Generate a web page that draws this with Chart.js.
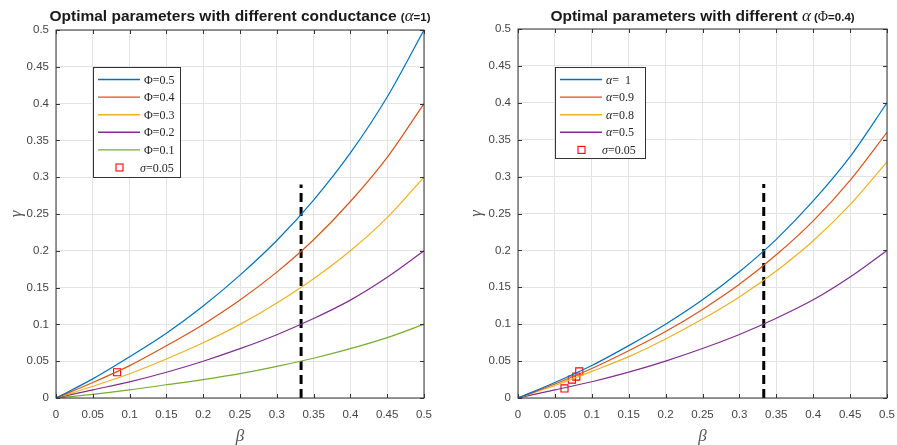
<!DOCTYPE html>
<html>
<head>
<meta charset="utf-8">
<script src="https://cdn.jsdelivr.net/npm/chart.js@4.4.1/dist/chart.umd.min.js"></script>
<style>
body { margin: 0; background: #fff; width: 897px; height: 445px; overflow: hidden; position: relative; }
.box { position: absolute; top: 0; height: 445px; }
</style>
</head>
<body>
<div class="box" style="left:0;width:448px"><canvas id="left"></canvas></div>
<div class="box" style="left:448px;width:449px"><canvas id="right"></canvas></div>
<script>
// values
var betaVals = [0, 0.05, 0.1, 0.15, 0.2, 0.25, 0.3, 0.35, 0.4, 0.45, 0.5];

var phi05 = [0, 0.026, 0.056, 0.088, 0.125, 0.167, 0.214, 0.269, 0.333, 0.409, 0.5];
var phi04 = [0, 0.021, 0.044, 0.071, 0.100, 0.133, 0.171, 0.215, 0.267, 0.327, 0.4];
var phi03 = [0, 0.016, 0.033, 0.053, 0.075, 0.100, 0.129, 0.162, 0.200, 0.245, 0.3];
var phi02 = [0, 0.011, 0.022, 0.035, 0.050, 0.067, 0.086, 0.108, 0.133, 0.164, 0.2];
var phi01 = [0, 0.005, 0.011, 0.018, 0.025, 0.033, 0.043, 0.054, 0.067, 0.082, 0.1];

var alpha10 = [0, 0.021, 0.044, 0.071, 0.100, 0.133, 0.171, 0.215, 0.267, 0.327, 0.4];
var alpha09 = [0, 0.019, 0.040, 0.064, 0.090, 0.120, 0.154, 0.194, 0.240, 0.295, 0.36];
var alpha08 = [0, 0.017, 0.036, 0.056, 0.080, 0.107, 0.137, 0.172, 0.213, 0.262, 0.32];
var alpha05 = [0, 0.011, 0.022, 0.035, 0.050, 0.067, 0.086, 0.108, 0.133, 0.164, 0.2];

var sigmaLeftBeta = [0.083];
var sigmaLeftGamma = [0.035];
var sigmaRightBeta = [0.063, 0.073, 0.079, 0.083];
var sigmaRightGamma = [0.013, 0.025, 0.029, 0.036];

var dashBeta = [0.333, 0.333];
var dashGamma = [0, 0.29];

var tickVals = [0, 0.05, 0.1, 0.15, 0.2, 0.25, 0.3, 0.35, 0.4, 0.45, 0.5];

var COLORS = ['#0072BD', '#D95319', '#EDB120', '#7E2F8E', '#77AC30'];

function pts(xs, ys) {
    return xs.map(function(x, i) { return {x: x, y: ys[i]}; });
}

function curve(label, ys, color) {
    return {
        label: label, data: pts(betaVals, ys), borderColor: color, borderWidth: 1.2,
        pointRadius: 0, cubicInterpolationMode: 'monotone', fill: false
    };
}

function markers(label, xs, ys) {
    return {
        label: label, data: pts(xs, ys), showLine: false, pointStyle: 'rect',
        pointRadius: 5, pointBorderColor: '#ff0000', pointBackgroundColor: 'rgba(0,0,0,0)',
        pointBorderWidth: 1.1, borderColor: '#ff0000'
    };
}

function dashLine() {
    return {
        label: '', data: pts(dashBeta, dashGamma), borderColor: '#000', borderWidth: 3,
        borderDash: [9, 5], pointRadius: 0, noLegend: true
    };
}

var fmt = function(v) { return String(+(+v).toFixed(2)); };

// MATLAB-ish frame, inward ticks, title, axis labels, legend
var matlabLook = {
    id: 'matlabLook',
    afterDraw: function(chart, args, o) {
        var ctx = chart.ctx, a = chart.chartArea;
        var xs = chart.scales.x, ys = chart.scales.y;
        ctx.save();
        ctx.strokeStyle = '#333';
        ctx.lineWidth = 1;
        ctx.strokeRect(a.left, a.top, a.right - a.left, a.bottom - a.top);
        ctx.beginPath();
        tickVals.forEach(function(v) {
            var px = Math.round(xs.getPixelForValue(v)) + 0.5;
            ctx.moveTo(px, a.bottom); ctx.lineTo(px, a.bottom - 4);
            ctx.moveTo(px, a.top); ctx.lineTo(px, a.top + 4);
            var py = Math.round(ys.getPixelForValue(v)) + 0.5;
            ctx.moveTo(a.left, py); ctx.lineTo(a.left + 4, py);
            ctx.moveTo(a.right, py); ctx.lineTo(a.right - 4, py);
        });
        ctx.stroke();

        // title
        var parts = o.title, total = 0;
        parts.forEach(function(p) { ctx.font = p.f; p.w = ctx.measureText(p.t).width; total += p.w; });
        var x = (a.left + a.right) / 2 - total / 2;
        ctx.fillStyle = '#1a1a1a';
        ctx.textAlign = 'left';
        ctx.textBaseline = 'alphabetic';
        parts.forEach(function(p) { ctx.font = p.f; ctx.fillText(p.t, x, 21); x += p.w; });

        // axis labels
        ctx.fillStyle = '#555';
        ctx.font = 'italic 17px "Liberation Serif"';
        ctx.textAlign = 'center';
        ctx.fillText('\u03b2', (a.left + a.right) / 2, 441);
        ctx.save();
        ctx.translate(o.gammaX, (a.top + a.bottom) / 2);
        ctx.rotate(-Math.PI / 2);
        ctx.fillText('\u03b3', 0, 5);
        ctx.restore();

        // legend
        var L = o.legend;
        ctx.fillStyle = '#fff';
        ctx.fillRect(L.x, L.y, L.w, L.h);
        ctx.strokeStyle = '#333';
        ctx.strokeRect(L.x + 0.5, L.y + 0.5, L.w, L.h);
        var row = 0;
        chart.data.datasets.forEach(function(ds) {
            if (ds.noLegend) return;
            var cy = L.y + 12.5 + row * 17.6;
            var tx;
            if (ds.showLine === false) {
                ctx.strokeStyle = '#ff0000';
                ctx.lineWidth = 1.1;
                ctx.strokeRect(L.x + 23, cy - 3.5, 7, 7);
                tx = L.x + 47;
            } else {
                ctx.strokeStyle = ds.borderColor;
                ctx.lineWidth = 1.4;
                ctx.beginPath();
                ctx.moveTo(L.x + 5, cy); ctx.lineTo(L.x + 47, cy);
                ctx.stroke();
                tx = L.x + 51;
            }
            ctx.fillStyle = '#262626';
            ctx.textAlign = 'left';
            ctx.textBaseline = 'middle';
            var first = ds.label.charAt(0);
            ctx.font = (first === '\u03a6' ? '' : 'italic ') + '12px "Liberation Serif"';
            ctx.fillText(first, tx, cy + 1);
            var w = ctx.measureText(first).width;
            ctx.font = '12px "Liberation Serif"';
            ctx.fillText(ds.label.slice(1), tx + w, cy + 1);
            row++;
        });
        ctx.restore();
    }
};

function makeChart(id, datasets, yWidth, pad, look) {
    return new Chart(document.getElementById(id), {
        type: 'line',
        data: {datasets: datasets},
        plugins: [matlabLook],
        options: {
            responsive: true,
            maintainAspectRatio: false,
            animation: false,
            layout: {padding: pad},
            plugins: {legend: {display: false}, tooltip: {enabled: false}, matlabLook: look},
            scales: {
                x: {
                    type: 'linear', min: 0, max: 0.5,
                    afterBuildTicks: function(s) { s.ticks = tickVals.map(function(v) { return {value: v}; }); },
                    afterFit: function(s) { s.height = 47; s.paddingRight = 0; },
                    grid: {color: '#e3e3e3', drawTicks: false},
                    border: {display: false},
                    ticks: {autoSkip: false, maxRotation: 0, padding: 10, color: '#444',
                        font: {family: 'Liberation Sans', size: 11.5}, callback: fmt}
                },
                y: {
                    type: 'linear', min: 0, max: 0.5,
                    afterBuildTicks: function(s) { s.ticks = tickVals.map(function(v) { return {value: v}; }); },
                    afterFit: function(s) { s.width = yWidth; s.paddingTop = 0; },
                    grid: {color: '#e3e3e3', drawTicks: false},
                    border: {display: false},
                    ticks: {padding: 7, color: '#444', font: {family: 'Liberation Sans', size: 11.5}, callback: fmt}
                }
            }
        }
    });
}

var BOLD = 'bold 15.5px "Liberation Sans"';
var SMALL = 'bold 11.5px "Liberation Sans"';
var GREEK = 'italic 17px "Liberation Serif"';

makeChart('left', [
    curve('\u03a6=0.5', phi05, COLORS[0]),
    curve('\u03a6=0.4', phi04, COLORS[1]),
    curve('\u03a6=0.3', phi03, COLORS[2]),
    curve('\u03a6=0.2', phi02, COLORS[3]),
    curve('\u03a6=0.1', phi01, COLORS[4]),
    markers('\u03c3=0.05', sigmaLeftBeta, sigmaLeftGamma),
    dashLine()
], 56, {left: 0, top: 30, right: 24, bottom: 0}, {
    title: [
        {t: 'Optimal parameters with different conductance ', f: BOLD},
        {t: '(', f: SMALL}, {t: '\u03b1', f: GREEK}, {t: '=1)', f: SMALL}
    ],
    gammaX: 16,
    legend: {x: 93, y: 67, w: 87, h: 110}
});

makeChart('right', [
    curve('\u03b1=  1', alpha10, COLORS[0]),
    curve('\u03b1=0.9', alpha09, COLORS[1]),
    curve('\u03b1=0.8', alpha08, COLORS[2]),
    curve('\u03b1=0.5', alpha05, COLORS[3]),
    markers('\u03c3=0.05', sigmaRightBeta, sigmaRightGamma),
    dashLine()
], 70, {left: 0, top: 29, right: 10, bottom: 0}, {
    title: [
        {t: 'Optimal parameters with different ', f: BOLD},
        {t: '\u03b1', f: GREEK}, {t: ' (', f: SMALL},
        {t: '\u03a6', f: '14px "Liberation Serif"'}, {t: '=0.4)', f: SMALL}
    ],
    gammaX: 28,
    legend: {x: 107, y: 67, w: 90, h: 91}
});
</script>
</body>
</html>
